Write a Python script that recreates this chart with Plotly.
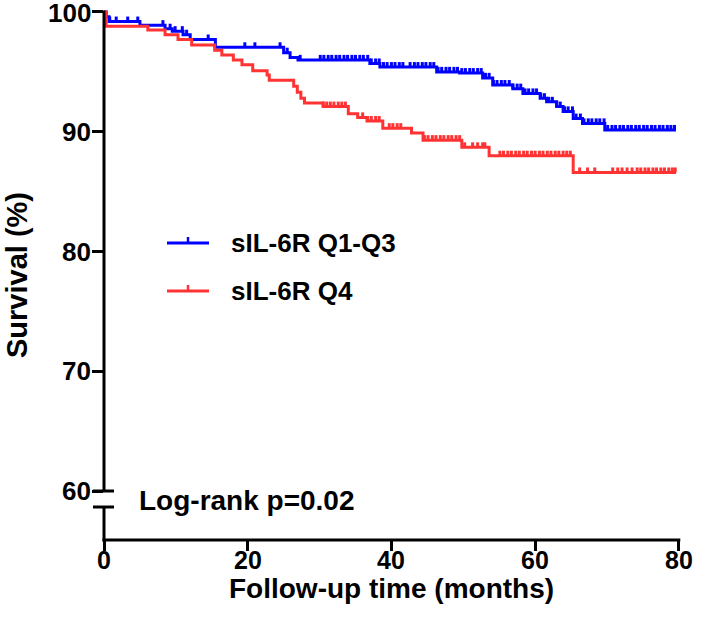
import bisect
import plotly.graph_objects as go

# ---- data ----
blue_t = [0, 0.3, 0.7, 5.0, 8.5, 9.5, 11.0, 12.0, 15.5, 25.0, 25.9, 27.0, 37.0, 38.4, 46.3, 49.5,
          52.7, 54.1, 56.9, 58.3, 60.7, 61.6, 63.0, 63.9, 65.3, 66.6, 69.7, 79.6]
blue_s = [100, 99.6, 99.2, 98.9, 98.6, 98.4, 98.1, 97.7, 97.05, 96.6, 96.2, 96.0, 95.7, 95.4, 95.0, 94.9,
          94.5, 93.9, 93.6, 93.2, 92.8, 92.5, 92.1, 91.7, 91.1, 90.7, 90.15, 90.15]

red_t = [0, 0.3, 6.1, 8.5, 10.3, 12.2, 15.4, 16.4, 18.0, 19.2, 20.7, 22.7, 23.0, 26.4, 26.9, 27.4,
         27.9, 30.5, 34.0, 35.3, 36.6, 38.8, 42.8, 44.4, 49.8, 53.6, 65.3, 79.6]
red_s = [100, 98.8, 98.5, 98.1, 97.7, 97.25, 96.8, 96.4, 96.0, 95.6, 95.1, 94.75, 94.3, 93.8, 93.3, 92.8,
         92.4, 92.1, 91.5, 91.2, 90.9, 90.3, 89.9, 89.3, 88.7, 88.0, 86.6, 86.6]

blue_cens = [0.8, 1.7, 3.3, 4.7, 8.2, 9.2, 9.9, 10.9, 11.5, 14.5, 19.6, 21.0, 24.5, 25.5, 27.3,
             30.1, 30.6, 31.2, 31.7, 32.3, 32.8, 33.4, 33.9, 34.5, 35.0, 35.6, 36.1, 36.7, 37.2, 37.8,
             38.3, 38.9, 39.4, 40.0, 40.5, 41.1, 41.6, 42.6, 43.2, 43.7, 44.3, 44.8, 45.4, 45.9, 46.5,
             47.0, 47.6, 48.1, 48.7, 49.2, 49.8, 50.3, 50.9, 51.4, 52.0, 52.5, 53.1, 53.6, 54.2, 54.7,
             55.3, 55.8, 56.4, 56.9, 57.5, 58.0, 58.6, 59.1, 59.7, 60.2, 60.8, 61.3, 61.9, 62.4, 63.0,
             63.5, 64.1, 64.6, 65.2, 65.7, 66.3, 66.8, 67.4, 67.9, 68.5, 69.0, 69.6, 70.1, 70.7, 71.2,
             71.8, 72.3, 72.9, 73.4, 74.0, 74.5, 75.1, 75.6, 76.2, 76.7, 77.3, 77.8, 78.4, 78.9, 79.4]
red_cens = [30.5, 31.0, 31.5, 32.0, 32.6, 33.1, 33.6, 36.0, 36.7, 37.2, 37.8, 38.3, 39.7, 40.2, 40.8,
            41.3, 42.8, 44.6, 45.1, 45.7, 46.2, 46.8, 47.3, 47.9, 48.4, 49.0, 49.5, 50.2, 51.3, 52.0,
            52.7, 53.0, 55.1, 55.6, 56.2, 56.7, 57.3, 57.8, 58.4, 58.9, 59.5, 60.0, 60.6, 61.1, 61.7,
            62.2, 62.8, 63.3, 63.9, 64.4, 64.9, 66.2, 67.3, 68.3, 70.8, 71.5, 72.1, 72.8, 73.5, 74.2,
            74.7, 75.3, 75.8, 76.4, 76.9, 77.5, 78.0, 78.6, 79.1, 79.5]

x_ticks = [0, 20, 40, 60, 80]
y_ticks = [60, 70, 80, 90, 100]
x_tick_labels = ["0", "20", "40", "60", "80"]
y_tick_labels = ["60", "70", "80", "90", "100"]
series_names = ["sIL-6R Q1-Q3", "sIL-6R Q4"]
pvalue_text = "Log-rank p=0.02"
x_title = "Follow-up time (months)"
y_title = "Survival (%)"

BLUE = "#0000FF"
RED = "#FF3333"
FONT = "Liberation Sans, Arial, sans-serif"

# ---- layout geometry (pixels) ----
W, H = 709, 630
L, R, T, B = 104, 686, 9, 540
XR = [0, 81]
YR = [55.92, 100.25]


def ppx(p):
    return (p - L) / (R - L)


def ppy(p):
    return (B - p) / (B - T)


def dx(v):
    return (v - XR[0]) / (XR[1] - XR[0])


def dy(v):
    return (v - YR[0]) / (YR[1] - YR[0])


def km_at(ts, ss, t):
    i = bisect.bisect_right(ts, t) - 1
    return ss[max(i, 0)]


def bold(size):
    return dict(family=FONT, size=size, color="black", weight="bold")


fig = go.Figure()
for ts, ss, cens, col in [(blue_t, blue_s, blue_cens, BLUE), (red_t, red_s, red_cens, RED)]:
    fig.add_trace(go.Scatter(x=ts, y=ss, mode="lines", line=dict(color=col, width=3, shape="hv"),
                             showlegend=False, hoverinfo="skip", cliponaxis=False))
    cy = [km_at(ts, ss, t) for t in cens]
    fig.add_trace(go.Scatter(
        x=cens, y=cy, mode="markers", marker=dict(size=1, color=col),
        error_y=dict(type="data", symmetric=False, array=[0.42] * len(cens),
                     arrayminus=[0] * len(cens), width=0, thickness=3, color=col),
        showlegend=False, hoverinfo="skip", cliponaxis=False))

lw = 3
shapes = []
# y axis upper segment (100 -> 60)
shapes.append(dict(type="line", xref="paper", yref="paper", x0=0, x1=0,
                   y0=dy(100) + 1.5 / (B - T), y1=dy(60), line=dict(color="black", width=lw)))
# break caps
for pyv in [491, 507]:
    shapes.append(dict(type="line", xref="paper", yref="paper", x0=ppx(93), x1=ppx(114),
                       y0=ppy(pyv), y1=ppy(pyv), line=dict(color="black", width=lw)))
# y axis lower segment
shapes.append(dict(type="line", xref="paper", yref="paper", x0=0, x1=0,
                   y0=ppy(507), y1=ppy(541.5), line=dict(color="black", width=lw)))
# x axis
shapes.append(dict(type="line", xref="paper", yref="paper", x0=ppx(102.5), x1=dx(80) + 1.5 / (R - L),
                   y0=0, y1=0, line=dict(color="black", width=lw)))

# legend samples
leg_y = [243, 291]
for yy, col in zip(leg_y, [BLUE, RED]):
    shapes.append(dict(type="line", xref="paper", yref="paper", x0=ppx(167), x1=ppx(209),
                       y0=ppy(yy), y1=ppy(yy), line=dict(color=col, width=3)))
    shapes.append(dict(type="line", xref="paper", yref="paper", x0=ppx(188), x1=ppx(188),
                       y0=ppy(yy), y1=ppy(yy - 6), line=dict(color=col, width=2.5)))

annotations = []
for v, t in zip(x_ticks, x_tick_labels):
    annotations.append(dict(x=v, y=ppy(545), xref="x", yref="paper", text=t, showarrow=False,
                            xanchor="center", yanchor="top", borderpad=0, font=bold(25)))
for v, t in zip(y_ticks, y_tick_labels):
    annotations.append(dict(x=ppx(92), y=v, xref="paper", yref="y", text=t, showarrow=False,
                            xanchor="right", yanchor="middle", borderpad=0, font=bold(26),
                            yshift=-1 if v == 100 else 0))
for yy, name in zip(leg_y, series_names):
    annotations.append(dict(x=ppx(230), y=ppy(yy), xref="paper", yref="paper", text=name,
                            showarrow=False, xanchor="left", yanchor="middle", borderpad=0,
                            font=bold(26)))
annotations.append(dict(x=ppx(138), y=ppy(500), xref="paper", yref="paper", text=pvalue_text,
                        showarrow=False, xanchor="left", yanchor="middle", borderpad=0,
                        font=bold(28)))
annotations.append(dict(x=dx(40), y=ppy(588), xref="paper", yref="paper", text=x_title,
                        showarrow=False, xanchor="center", yanchor="middle", borderpad=0,
                        font=bold(28)))
annotations.append(dict(x=ppx(17), y=ppy(275), xref="paper", yref="paper", text=y_title,
                        showarrow=False, xanchor="center", yanchor="middle", textangle=-90,
                        borderpad=0, font=bold(29)))

fig.update_layout(
    width=W, height=H,
    margin=dict(l=L, r=W - R, t=T, b=H - B, autoexpand=False),
    paper_bgcolor="white", plot_bgcolor="white",
    shapes=shapes, annotations=annotations,
    xaxis=dict(range=XR, tickvals=x_ticks, ticks="outside", ticklen=10, tickwidth=3,
               tickcolor="black", showline=False, showgrid=False, zeroline=False,
               showticklabels=False),
    yaxis=dict(range=YR, tickvals=y_ticks, ticks="outside", ticklen=11, tickwidth=3,
               tickcolor="black", showline=False, showgrid=False, zeroline=False,
               showticklabels=False),
)

fig.write_html("out.html", config={"displayModeBar": False},
               post_script="document.body.style.margin='0px';")
